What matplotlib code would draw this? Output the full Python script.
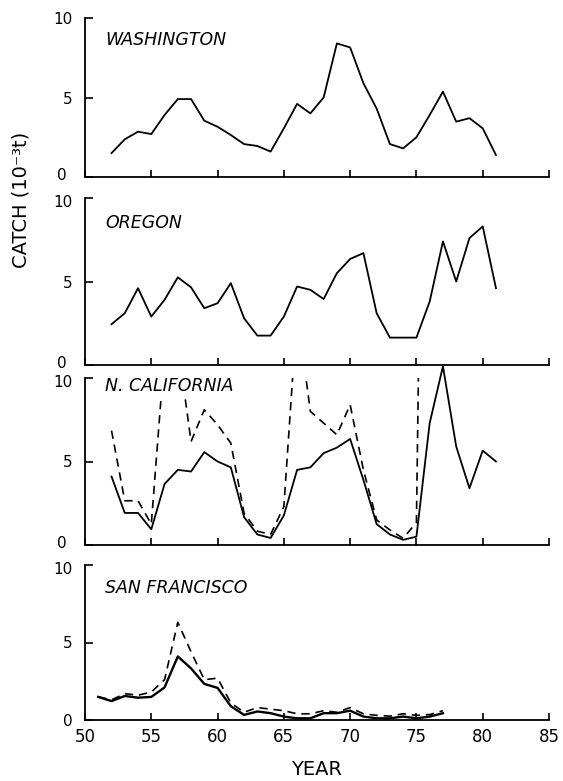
import matplotlib.pyplot as plt
from matplotlib.transforms import ScaledTranslation

# years on the x axis
years_52_81 = list(range(52, 82))
years_52_76 = list(range(52, 77))
years_51_77 = list(range(51, 78))

# catch, 10^3 t
washington = [1.5, 2.37, 2.85, 2.7, 3.9, 4.9, 4.9, 3.54, 3.16, 2.64, 2.07, 1.95, 1.6, 3.06, 4.6,
              4.0, 5.0, 8.4, 8.15, 5.9, 4.3, 2.07, 1.8, 2.5, 3.9, 5.37, 3.48, 3.7, 3.06, 1.38]
oregon = [2.44, 3.1, 4.6, 2.9, 3.9, 5.25, 4.65, 3.4, 3.7, 4.9, 2.8, 1.76, 1.76, 2.9, 4.7,
          4.5, 3.95, 5.5, 6.35, 6.7, 3.1, 1.64, 1.64, 1.64, 3.8, 7.4, 5.0, 7.6, 8.3, 4.6]
ncal_solid = [4.1, 1.92, 1.92, 0.94, 3.65, 4.5, 4.4, 5.56, 5.0, 4.65, 1.67, 0.63, 0.42, 1.77, 4.5,
              4.65, 5.5, 5.83, 6.35, 3.9, 1.25, 0.63, 0.31, 0.5, 7.3, 10.7, 5.9, 3.4, 5.65, 5.0]
# dashed series runs off the top of the panel in 56-57, 66 and 76
ncal_dashed = [6.85, 2.65, 2.65, 1.25, 11.5, 12.0, 6.2, 8.1, 7.2, 6.1, 1.9, 0.83, 0.63, 2.3, 14.0,
               8.0, 7.3, 6.6, 8.4, 4.5, 1.5, 0.9, 0.4, 1.35, 60.0]
sf_solid = [1.49, 1.22, 1.55, 1.44, 1.49, 2.1, 4.1, 3.33, 2.33, 2.07, 0.89, 0.33, 0.55, 0.44,
            0.22, 0.11, 0.11, 0.44, 0.44, 0.6, 0.22, 0.11, 0.11, 0.22, 0.11, 0.22, 0.44]
sf_dashed = [1.5, 1.3, 1.7, 1.6, 1.8, 2.6, 6.3, 4.4, 2.6, 2.7, 1.1, 0.5, 0.8, 0.7, 0.6, 0.4,
             0.4, 0.6, 0.5, 0.8, 0.4, 0.3, 0.25, 0.4, 0.3, 0.35, 0.6]

x_ticks = [50, 55, 60, 65, 70, 75, 80, 85]
y_ticks = [0, 5, 10]

plt.rcParams['font.family'] = 'DejaVu Sans'

W, H = 563, 781
fig = plt.figure(figsize=(W / 100, H / 100), dpi=100)

# panel frames in pixels: (top of "10", bottom at "0")
frames = [(18, 177), (198, 365), (378, 545), (565, 720)]
x_left, x_right = 85, 549
dash = (0, (5, 3.5))


def make_axes(top, bottom):
    ax = fig.add_axes([x_left / W, (H - bottom) / H, (x_right - x_left) / W, (bottom - top) / H])
    ax.set_xlim(50, 85)
    ax.set_ylim(0, 10)
    ax.spines['top'].set_visible(False)
    ax.spines['right'].set_visible(False)
    ax.spines['left'].set_linewidth(1.3)
    ax.spines['bottom'].set_linewidth(1.3)
    ax.set_xticks(x_ticks)
    ax.set_yticks(y_ticks)
    ax.tick_params(axis='both', direction='in', width=1.2)
    ax.tick_params(axis='x', length=5, pad=6, labelsize=12)
    ax.tick_params(axis='y', length=6, pad=9, labelsize=11)
    ax.patch.set_visible(False)
    return ax


def panel_label(ax, text, y, box=False):
    t = ax.text(0.043, y, text, transform=ax.transAxes, fontsize=12.5, style='italic',
                va='center', ha='left', zorder=5)
    if box:
        t.set_bbox(dict(facecolor='white', edgecolor='none', pad=1.5))


def nudge(label, dx, dy):
    label.set_transform(label.get_transform() + ScaledTranslation(dx / 72, dy / 72, fig.dpi_scale_trans))


axs = [make_axes(t, b) for t, b in frames]

# Washington
axs[0].plot(years_52_81, washington, color='black', lw=1.3)
panel_label(axs[0], 'WASHINGTON', 0.86)

# Oregon
axs[1].plot(years_52_81, oregon, color='black', lw=1.3)
panel_label(axs[1], 'OREGON', 0.85)

# N. California
axs[2].plot(years_52_81, ncal_solid, color='black', lw=1.3, clip_on=False, zorder=3)
axs[2].plot(years_52_76, ncal_dashed, color='black', lw=1.2, ls=dash, zorder=2)
panel_label(axs[2], 'N. CALIFORNIA', 0.955, box=True)

# San Francisco
axs[3].plot(years_51_77, sf_solid, color='black', lw=1.7)
axs[3].plot(years_51_77, sf_dashed, color='black', lw=1.2, ls=dash)
panel_label(axs[3], 'SAN FRANCISCO', 0.85)

for ax in axs[:3]:
    ax.tick_params(axis='x', labelbottom=False)

# the "0" and "10" of neighbouring panels sit almost on top of each other
fig.canvas.draw()
for i, ax in enumerate(axs):
    labels = ax.get_yticklabels()
    if i < 3:
        nudge(labels[0], -4, 2)
    if i > 0:
        nudge(labels[2], 0, -2)

axs[3].set_xlabel('YEAR', fontsize=14, labelpad=10)

fig.text(0.038, (H - 200) / H, 'CATCH (10⁻³t)', rotation=90, fontsize=14,
         ha='center', va='center')

fig.savefig('out.png', dpi=100)
